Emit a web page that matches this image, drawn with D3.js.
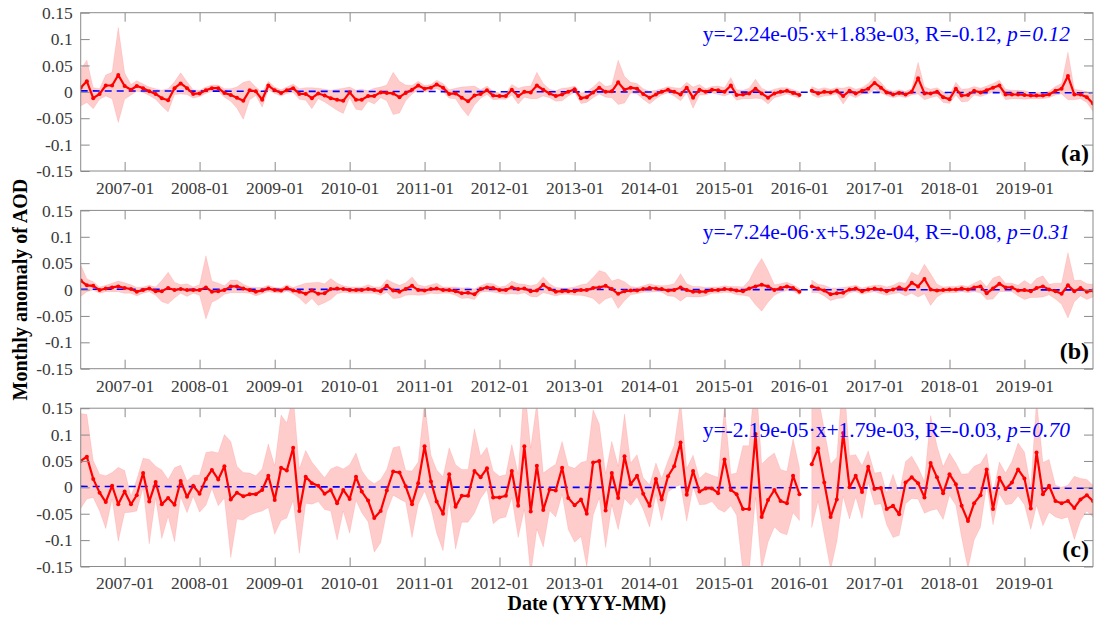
<!DOCTYPE html>
<html>
<head>
<meta charset="utf-8">
<script src="https://cdn.jsdelivr.net/npm/d3@7"></script>
<style>
  html, body { margin: 0; padding: 0; background: #fff; }
  svg { display: block; font-family: "Liberation Serif", "Times New Roman", serif; }
</style>
</head>
<body>
<svg id="chart" width="1097" height="624"></svg>
<script>
// Monthly AOD anomalies, 2006-06 .. 2019-12 (2016-02 missing)
const startMonth = new Date(2006, 5, 1);
const endMonth = new Date(2019, 11, 1);

const panelLabels = ["(a)", "(b)", "(c)"];

const anomalyA = [
  0.008, 0.020, -0.012, -0.004, 0.012, 0.012, 0.032, 0.011, 0.004, 0.011,
  0.007, 0.001, -0.004, -0.012, -0.016, 0.007, 0.016, 0.007, -0.004, -0.003,
  0.003, 0.007, 0.007, -0.002, -0.006, -0.011, -0.017, 0.003, 0.001, -0.015,
  0.012, 0.003, -0.002, 0.003, 0.007, -0.004, -0.004, -0.012, -0.003, -0.007,
  -0.012, -0.015, -0.017, -0.001, -0.015, -0.015, -0.008, -0.008, -0.001, -0.002,
  -0.003, -0.010, -0.002, 0.004, 0.012, 0.006, 0.008, 0.014, 0.008, -0.004,
  -0.003, -0.011, -0.018, -0.007, -0.004, 0.003, -0.007, -0.008, -0.008, 0.004,
  -0.008, 0.000, -0.001, 0.012, 0.004, -0.003, -0.008, -0.005, 0.000, 0.005,
  -0.012, -0.010, -0.001, 0.008, 0.000, 0.001, 0.018, 0.004, 0.008, 0.006,
  -0.004, -0.011, -0.005, 0.000, 0.004, 0.000, -0.005, 0.008, -0.011, 0.004,
  0.000, 0.004, 0.003, 0.000, 0.012, -0.006, -0.005, -0.003, 0.006, -0.003,
  -0.011, -0.003, 0.000, 0.002, -0.002, -0.006, null, 0.002, -0.003, 0.000,
  -0.001, 0.002, -0.008, 0.002, -0.003, 0.002, 0.006, 0.017, 0.008, -0.001,
  -0.005, -0.002, -0.005, 0.000, 0.026, -0.003, -0.003, 0.000, -0.010, -0.014,
  0.006, -0.007, -0.006, 0.002, -0.001, 0.003, 0.008, 0.012, -0.005, -0.005,
  -0.005, -0.006, -0.007, -0.007, -0.007, -0.005, 0.002, 0.006, 0.030, -0.005,
  -0.005, -0.010, -0.022
];
const spreadA = [
  0.035, 0.040, 0.020, 0.010, 0.020, 0.025, 0.090, 0.025, 0.010, 0.010,
  0.008, 0.008, 0.010, 0.015, 0.022, 0.012, 0.020, 0.012, 0.008, 0.006,
  0.006, 0.006, 0.006, 0.008, 0.012, 0.020, 0.035, 0.018, 0.008, 0.014,
  0.008, 0.006, 0.006, 0.006, 0.008, 0.010, 0.012, 0.020, 0.010, 0.012,
  0.015, 0.020, 0.024, 0.010, 0.018, 0.020, 0.010, 0.015, 0.010, 0.015,
  0.040, 0.030, 0.015, 0.008, 0.008, 0.006, 0.006, 0.008, 0.008, 0.008,
  0.010, 0.020, 0.028, 0.018, 0.008, 0.008, 0.008, 0.006, 0.006, 0.010,
  0.015, 0.010, 0.012, 0.025, 0.012, 0.008, 0.010, 0.012, 0.008, 0.006,
  0.010, 0.010, 0.010, 0.012, 0.010, 0.012, 0.042, 0.025, 0.010, 0.010,
  0.010, 0.012, 0.008, 0.006, 0.006, 0.008, 0.012, 0.010, 0.020, 0.010,
  0.006, 0.006, 0.008, 0.008, 0.015, 0.010, 0.008, 0.010, 0.018, 0.010,
  0.012, 0.008, 0.008, 0.006, 0.006, 0.006, null, 0.008, 0.008, 0.008,
  0.006, 0.006, 0.015, 0.008, 0.008, 0.006, 0.010, 0.012, 0.010, 0.006,
  0.006, 0.006, 0.006, 0.006, 0.030, 0.012, 0.008, 0.008, 0.010, 0.008,
  0.012, 0.012, 0.012, 0.008, 0.008, 0.008, 0.008, 0.010, 0.010, 0.008,
  0.008, 0.008, 0.006, 0.006, 0.006, 0.006, 0.008, 0.010, 0.045, 0.010,
  0.008, 0.010, 0.015
];

const anomalyB = [
  0.017, 0.008, 0.007, -0.001, 0.002, 0.004, 0.006, 0.003, 0.001, -0.004,
  -0.001, 0.002, -0.003, -0.003, 0.003, -0.001, 0.001, -0.001, -0.001, -0.001,
  0.004, -0.004, -0.003, -0.001, 0.006, 0.006, 0.002, -0.001, -0.004, -0.002,
  0.002, -0.001, -0.002, 0.003, -0.002, -0.004, -0.008, -0.002, -0.008, -0.007,
  0.001, 0.002, 0.001, -0.001, -0.001, -0.001, 0.001, -0.001, -0.003, 0.007,
  -0.002, -0.004, 0.001, 0.007, -0.001, -0.002, 0.001, 0.002, -0.001, -0.001,
  -0.003, -0.007, -0.006, -0.009, 0.001, 0.004, 0.003, -0.001, -0.001, 0.004,
  0.001, 0.002, -0.003, -0.002, 0.009, 0.001, -0.004, -0.003, -0.003, -0.003,
  -0.001, -0.001, 0.003, 0.004, 0.007, 0.001, -0.008, -0.003, -0.002, -0.002,
  0.001, 0.003, 0.002, 0.001, -0.002, -0.001, 0.004, -0.001, -0.004, -0.004,
  -0.004, -0.001, -0.001, 0.001, 0.000, -0.002, -0.003, 0.002, 0.006, 0.009,
  0.006, -0.001, 0.003, 0.006, 0.003, -0.004, null, 0.006, 0.002, -0.002,
  -0.009, -0.007, -0.006, 0.000, 0.002, -0.003, 0.000, 0.002, 0.000, -0.003,
  0.000, 0.004, 0.000, 0.013, 0.006, 0.020, 0.000, -0.002, -0.001, 0.000,
  0.000, 0.002, 0.000, 0.004, 0.006, -0.007, 0.002, 0.011, 0.004, 0.004,
  -0.002, -0.001, -0.003, 0.003, 0.006, 0.000, -0.003, -0.008, 0.008, -0.003,
  0.003, -0.004, -0.002
];
const spreadB = [
  0.030, 0.012, 0.008, 0.006, 0.006, 0.008, 0.010, 0.010, 0.008, 0.008,
  0.006, 0.006, 0.008, 0.020, 0.030, 0.015, 0.008, 0.012, 0.006, 0.010,
  0.060, 0.020, 0.015, 0.008, 0.012, 0.012, 0.008, 0.006, 0.008, 0.006,
  0.006, 0.005, 0.005, 0.006, 0.006, 0.012, 0.020, 0.015, 0.022, 0.018,
  0.020, 0.010, 0.006, 0.006, 0.006, 0.006, 0.008, 0.006, 0.008, 0.012,
  0.015, 0.012, 0.012, 0.017, 0.010, 0.008, 0.008, 0.010, 0.006, 0.006,
  0.008, 0.010, 0.010, 0.010, 0.006, 0.008, 0.008, 0.006, 0.008, 0.012,
  0.010, 0.008, 0.010, 0.012, 0.015, 0.010, 0.008, 0.006, 0.006, 0.008,
  0.010, 0.012, 0.020, 0.032, 0.025, 0.015, 0.028, 0.018, 0.008, 0.006,
  0.006, 0.008, 0.006, 0.006, 0.010, 0.012, 0.026, 0.012, 0.010, 0.010,
  0.008, 0.006, 0.006, 0.006, 0.006, 0.008, 0.008, 0.015, 0.035, 0.050,
  0.030, 0.010, 0.008, 0.008, 0.006, 0.006, null, 0.012, 0.008, 0.010,
  0.012, 0.010, 0.010, 0.006, 0.006, 0.006, 0.006, 0.006, 0.008, 0.008,
  0.008, 0.010, 0.012, 0.020, 0.020, 0.028, 0.030, 0.012, 0.006, 0.006,
  0.006, 0.006, 0.006, 0.008, 0.012, 0.012, 0.020, 0.015, 0.008, 0.008,
  0.010, 0.018, 0.012, 0.018, 0.020, 0.010, 0.015, 0.020, 0.062, 0.020,
  0.015, 0.015, 0.012
];

const anomalyC = [
  0.050, 0.058, 0.016, -0.010, -0.028, 0.003, -0.032, -0.008, -0.032, -0.015,
  0.027, -0.027, 0.010, -0.032, -0.020, -0.033, 0.012, -0.018, 0.003, -0.012,
  0.016, 0.033, 0.015, 0.040, -0.023, -0.010, -0.017, -0.013, -0.013, -0.005,
  0.022, -0.024, 0.037, 0.032, 0.075, -0.045, 0.020, 0.008, 0.003, -0.012,
  -0.005, -0.030, -0.005, -0.022, 0.020, -0.008, -0.025, -0.058, -0.045, -0.006,
  0.030, 0.028, 0.002, -0.032, 0.008, 0.078, 0.011, -0.027, -0.050, 0.025,
  -0.037, -0.016, -0.016, 0.031, 0.019, 0.036, -0.019, -0.019, -0.016, 0.031,
  -0.035, 0.078, -0.046, 0.041, -0.043, -0.004, -0.006, 0.037, -0.020, -0.034,
  -0.023, -0.050, 0.047, 0.050, -0.044, 0.027, -0.020, 0.059, 0.006, 0.022,
  -0.012, -0.035, 0.016, -0.023, 0.021, 0.040, 0.085, -0.014, 0.031, -0.008,
  -0.002, -0.002, -0.011, 0.053, -0.005, -0.013, -0.041, -0.041, 0.101, -0.056,
  -0.024, -0.005, -0.026, -0.030, 0.022, -0.013, null, 0.044, 0.074, 0.009,
  -0.056, -0.023, 0.103, 0.000, 0.022, -0.009, 0.039, -0.003, -0.001, -0.041,
  -0.035, -0.051, 0.009, 0.019, 0.008, -0.019, 0.046, 0.019, -0.011, 0.025,
  0.006, -0.035, -0.064, -0.030, -0.015, 0.034, -0.041, 0.018, -0.003, 0.009,
  0.034, 0.017, -0.040, 0.066, -0.013, 0.003, -0.026, -0.030, -0.026, -0.039,
  -0.023, -0.015, -0.026
];
const spreadC = [
  0.090, 0.080, 0.035, 0.035, 0.050, 0.025, 0.070, 0.040, 0.015, 0.030,
  0.028, 0.080, 0.030, 0.065, 0.035, 0.070, 0.030, 0.030, 0.020, 0.035,
  0.050, 0.035, 0.050, 0.060, 0.110, 0.050, 0.045, 0.040, 0.035, 0.040,
  0.060, 0.065, 0.100, 0.090, 0.100, 0.080, 0.050, 0.040, 0.030, 0.030,
  0.040, 0.070, 0.040, 0.065, 0.045, 0.040, 0.040, 0.065, 0.060, 0.040,
  0.045, 0.050, 0.030, 0.063, 0.040, 0.085, 0.050, 0.060, 0.070, 0.050,
  0.080, 0.050, 0.050, 0.080, 0.040, 0.040, 0.050, 0.040, 0.040, 0.050,
  0.060, 0.120, 0.120, 0.120, 0.070, 0.040, 0.050, 0.050, 0.060, 0.070,
  0.070, 0.100, 0.100, 0.070, 0.070, 0.060, 0.060, 0.080, 0.040, 0.040,
  0.030, 0.040, 0.030, 0.040, 0.030, 0.040, 0.080, 0.050, 0.030, 0.025,
  0.030, 0.025, 0.030, 0.100, 0.030, 0.040, 0.120, 0.120, 0.120, 0.100,
  0.080, 0.070, 0.060, 0.060, 0.070, 0.050, null, 0.120, 0.100, 0.100,
  0.100, 0.080, 0.120, 0.060, 0.040, 0.050, 0.030, 0.030, 0.030, 0.030,
  0.060, 0.040, 0.040, 0.040, 0.030, 0.030, 0.090, 0.060, 0.050, 0.040,
  0.040, 0.060, 0.090, 0.070, 0.060, 0.030, 0.030, 0.030, 0.030, 0.040,
  0.050, 0.050, 0.040, 0.100, 0.060, 0.050, 0.030, 0.030, 0.030, 0.060,
  0.040, 0.030, 0.030
];

// Linear trend fits (x = month index starting at 1)
const fitSlope = [-2.24e-05, -7.24e-06, -2.19e-05];
const fitIntercept = [1.83e-03, 5.92e-04, 1.79e-03];
const fitR = [-0.12, -0.08, -0.03];
const fitP = [0.12, 0.31, 0.70];

const yTicks = [-0.15, -0.1, -0.05, 0, 0.05, 0.1, 0.15];

const anomalies = [anomalyA, anomalyB, anomalyC];
const spreads = [spreadA, spreadB, spreadC];

// ---- layout ----
const svg = d3.select("#chart");
const left = 80.7, right = 1093;
const panelTops = [12.7, 210.4, 408.2];
const panelH = 158.3;
const tickLen = 9;
const serif = "Liberation Serif, Times New Roman, serif";

const months = d3.timeMonth.range(startMonth, d3.timeMonth.offset(endMonth, 1));
const x = d3.scaleTime().domain([startMonth, endMonth]).range([left, right]);
const yearTicks = months.filter(d => d.getMonth() === 0);

const fmtDate = d3.timeFormat("%Y-%m");
function sci(v) {
  const [m, e] = v.toExponential(2).split("e");
  const n = parseInt(e, 10);
  return m + "e" + (n < 0 ? "-" : "+") + String(Math.abs(n)).padStart(2, "0");
}

const red = "#ff0000";
const blue = "#0000ff";
const axisGrey = "#8a8a8a";
const labelGrey = "#3a3a3a";

panelTops.forEach((top, k) => {
  const y = d3.scaleLinear().domain([-0.15, 0.15]).range([top + panelH, top]);
  const g = svg.append("g");
  const clipId = "clip" + k;
  svg.append("clipPath").attr("id", clipId)
    .append("rect").attr("x", left).attr("y", top).attr("width", right - left).attr("height", panelH);

  const rows = months.map((d, i) => ({
    date: d, idx: i + 1,
    v: anomalies[k][i], s: spreads[k][i]
  }));

  const plot = g.append("g").attr("clip-path", `url(#${clipId})`);

  // spread band
  plot.append("path")
    .datum(rows)
    .attr("fill", red)
    .attr("fill-opacity", 0.2)
    .attr("stroke", red)
    .attr("stroke-opacity", 0.12)
    .attr("stroke-width", 0.8)
    .attr("d", d3.area()
      .defined(d => d.v !== null)
      .x(d => x(d.date))
      .y0(d => y(d.v - d.s))
      .y1(d => y(d.v + d.s)));

  // trend line
  const ends = [rows[0], rows[rows.length - 1]];
  plot.append("path")
    .datum(ends)
    .attr("fill", "none")
    .attr("stroke", blue)
    .attr("stroke-width", 1.6)
    .attr("stroke-dasharray", "7,5")
    .attr("d", d3.line()
      .x(d => x(d.date))
      .y(d => y(fitSlope[k] * d.idx + fitIntercept[k])));

  // anomaly series
  plot.append("path")
    .datum(rows)
    .attr("fill", "none")
    .attr("stroke", red)
    .attr("stroke-width", 2.2)
    .attr("stroke-linejoin", "round")
    .attr("d", d3.line()
      .defined(d => d.v !== null)
      .x(d => x(d.date))
      .y(d => y(d.v)));

  plot.selectAll("circle")
    .data(rows.filter(d => d.v !== null))
    .join("circle")
    .attr("cx", d => x(d.date))
    .attr("cy", d => y(d.v))
    .attr("r", 2)
    .attr("fill", red);

  // axes (ticks inward on all four sides)
  const axisStyle = sel => {
    sel.attr("font-family", serif).attr("font-size", 17.5);
    sel.select(".domain").remove();
    sel.selectAll(".tick line").attr("stroke", axisGrey);
    sel.selectAll(".tick text").attr("fill", labelGrey);
  };

  g.append("g").attr("transform", `translate(0,${top + panelH})`)
    .call(d3.axisBottom(x).tickValues(yearTicks).tickFormat(fmtDate)
      .tickSizeInner(-tickLen).tickSizeOuter(0).tickPadding(10.5))
    .call(axisStyle);
  g.append("g").attr("transform", `translate(0,${top})`)
    .call(d3.axisTop(x).tickValues(yearTicks).tickFormat("")
      .tickSizeInner(-tickLen).tickSizeOuter(0))
    .call(axisStyle);
  g.append("g").attr("transform", `translate(${left},0)`)
    .call(d3.axisLeft(y).tickValues(yTicks).tickFormat(d => String(d))
      .tickSizeInner(-tickLen).tickSizeOuter(0).tickPadding(8))
    .call(axisStyle);
  g.append("g").attr("transform", `translate(${right},0)`)
    .call(d3.axisRight(y).tickValues(yTicks).tickFormat("")
      .tickSizeInner(-tickLen).tickSizeOuter(0))
    .call(axisStyle);

  g.append("rect")
    .attr("x", left).attr("y", top)
    .attr("width", right - left).attr("height", panelH)
    .attr("fill", "none").attr("stroke", axisGrey).attr("stroke-width", 1);

  // regression annotation
  const eq = g.append("text")
    .attr("x", 1070).attr("y", top + 28.5)
    .attr("text-anchor", "end")
    .attr("fill", blue)
    .attr("font-size", 21.5);
  eq.append("tspan").text(
    `y=${sci(fitSlope[k])}\u00b7x+${sci(fitIntercept[k])}, R=${fitR[k].toFixed(2)}, `);
  eq.append("tspan").attr("font-style", "italic").text(`p=${fitP[k].toFixed(2)}`);

  // panel letter
  g.append("text")
    .attr("x", 1089).attr("y", top + panelH - 10)
    .attr("text-anchor", "end")
    .attr("font-weight", "bold")
    .attr("font-size", 24)
    .attr("fill", "#000")
    .text(panelLabels[k]);
});

// axis titles
svg.append("text")
  .attr("transform", `translate(27,${(panelTops[0] + panelTops[2] + panelH) / 2}) rotate(-90)`)
  .attr("text-anchor", "middle")
  .attr("font-weight", "bold")
  .attr("font-size", 20)
  .attr("fill", "#000")
  .text("Monthly anomaly of AOD");

svg.append("text")
  .attr("x", (left + right) / 2).attr("y", 610)
  .attr("text-anchor", "middle")
  .attr("font-weight", "bold")
  .attr("font-size", 20)
  .attr("fill", "#000")
  .text("Date (YYYY-MM)");
</script>
</body>
</html>
